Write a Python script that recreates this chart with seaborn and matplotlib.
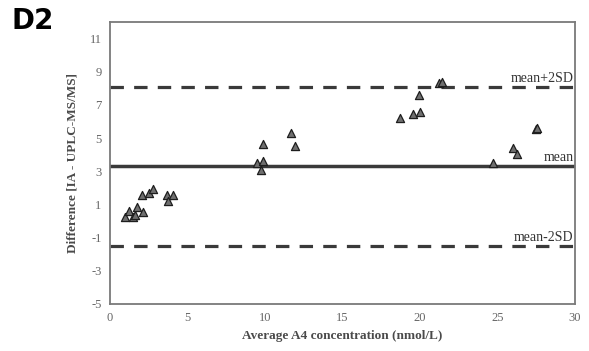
import numpy as np
import pandas as pd
import matplotlib
matplotlib.use("Agg")
import matplotlib.pyplot as plt
import seaborn as sns

# Bland-Altman data: average concentration vs. method difference
avg_conc = [0.97, 1.25, 1.51, 1.62, 1.76, 2.11, 2.09, 2.52, 2.80, 3.67, 4.05, 3.77,
            9.48, 9.87, 9.76, 9.85, 11.70, 11.92,
            18.70, 19.54, 19.97, 19.95, 21.25, 21.40,
            24.69, 26.00, 26.29, 27.47, 27.58]
difference = [0.22, 0.63, 0.27, 0.37, 0.87, 0.57, 1.58, 1.72, 1.96, 1.56, 1.58, 1.23,
              3.52, 3.63, 3.08, 4.65, 5.33, 4.53,
              6.20, 6.44, 6.60, 7.60, 8.30, 8.40,
              3.52, 4.39, 4.05, 5.55, 5.60]

mean_diff = 3.3
upper_loa = 8.1
lower_loa = -1.5
line_labels = ["mean+2SD", "mean", "mean-2SD"]
x_ticks = [0, 5, 10, 15, 20, 25, 30]
y_ticks = [-5, -3, -1, 1, 3, 5, 7, 9, 11]

df = pd.DataFrame({"avg": avg_conc, "diff": difference})

sns.set_style("white")
plt.rcParams["font.family"] = ["Liberation Serif", "DejaVu Serif"]
plt.rcParams["axes.unicode_minus"] = False

fig = plt.figure(figsize=(5.89, 3.51), dpi=100)
ax = fig.add_axes([110 / 589, 1 - 304 / 351, (575 - 110) / 589, (304 - 22) / 351])

line_col = "#3a3a3a"
ax.axhline(mean_diff, color=line_col, lw=2.5, zorder=1)
ax.axhline(upper_loa, color=line_col, lw=2.3, ls=(0, (4.2, 3.2)), zorder=1)
ax.axhline(lower_loa, color=line_col, lw=2.3, ls=(0, (4.2, 3.2)), zorder=1)

sns.scatterplot(data=df, x="avg", y="diff", marker="^", s=34, color="#6f6f6f",
                edgecolor="#1e1e1e", linewidth=0.9, ax=ax, zorder=3, legend=False)

for val, lab in zip([upper_loa, mean_diff, lower_loa], line_labels):
    ax.text(29.9, val + 0.12, lab, ha="right", va="bottom", fontsize=10,
            color="#333333")

ax.set_xlim(0, 30)
ax.set_ylim(-5, 12)
ax.set_xticks(x_ticks)
ax.set_yticks(y_ticks)
ax.tick_params(axis="both", length=0, labelsize=9, labelcolor="#666666", pad=6)

for s in ax.spines.values():
    s.set_visible(True)
    s.set_color("#7a7a7a")
    s.set_linewidth(1.3)

ax.set_xlabel("Average A4 concentration (nmol/L)", fontsize=9.5, fontweight="bold",
              color="#4a4a4a", labelpad=4)
ax.set_ylabel("Difference [IA - UPLC-MS/MS]", fontsize=9.5, fontweight="bold",
              color="#4a4a4a", labelpad=8)

fig.text(11 / 589, 1 - 29 / 351, "D2", fontsize=20, fontweight="heavy",
         family=["DejaVu Sans"], color="black", ha="left", va="baseline")

fig.savefig("out.png", dpi=100, facecolor="white")
